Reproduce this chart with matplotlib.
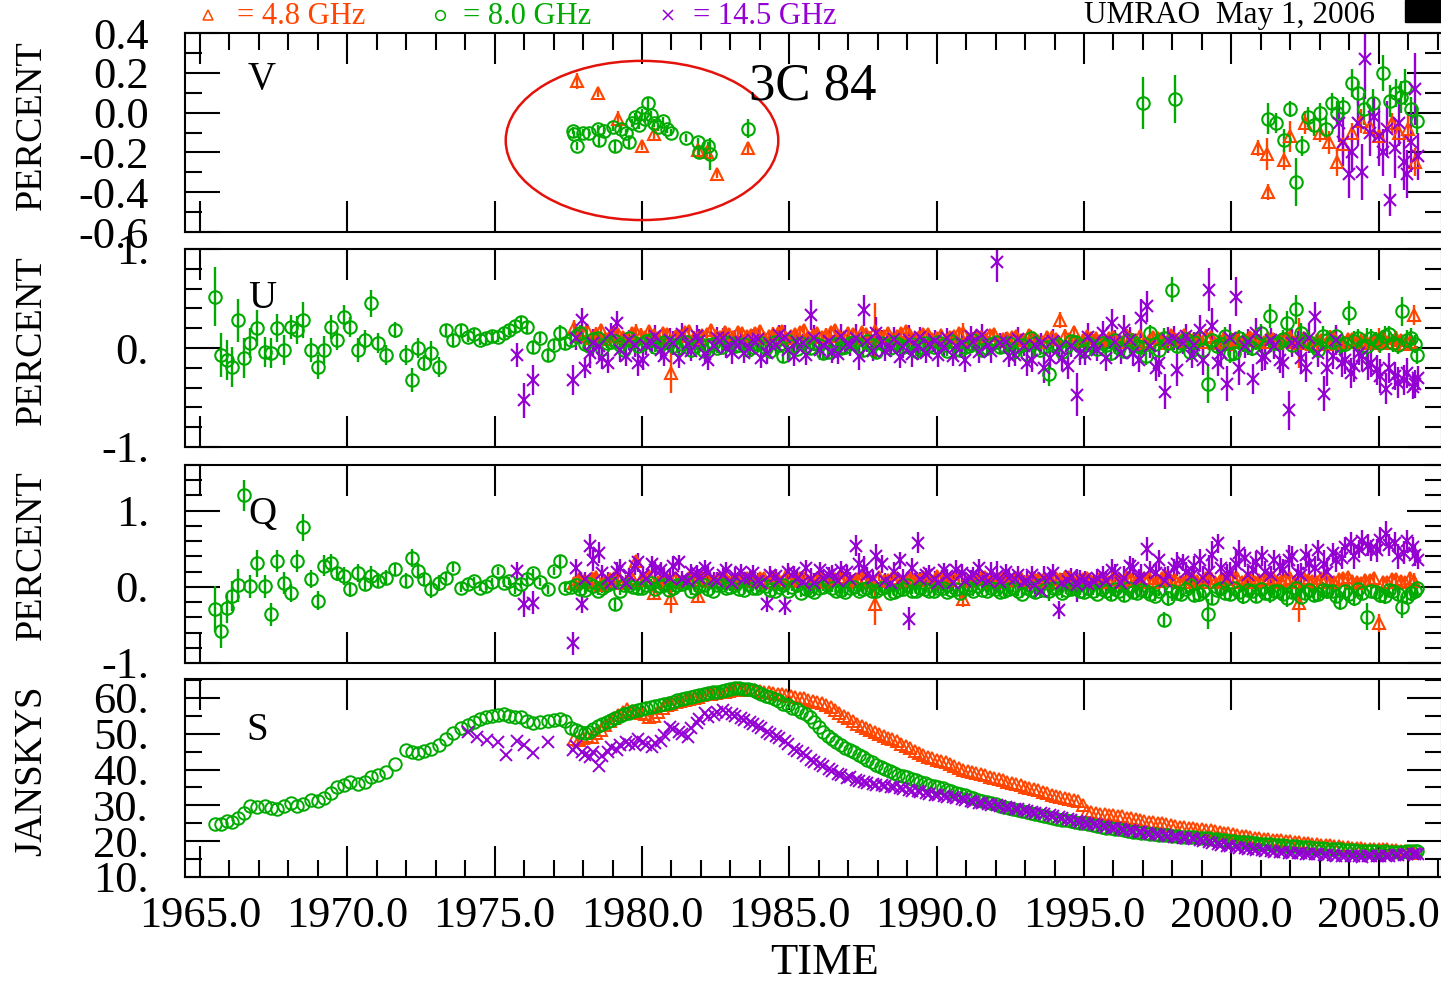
"""
UMRAO 3C 84 monitoring plot: V, U, Q polarization and total flux S
at 4.8, 8.0 and 14.5 GHz.
"""

import matplotlib
matplotlib.use("Agg")
import matplotlib.pyplot as plt
import matplotlib.patches as mpatches
from matplotlib.lines import Line2D
from matplotlib.ticker import MultipleLocator, FixedLocator, FixedFormatter, NullLocator, FormatStrFormatter
import numpy as np

plt.rcParams["font.family"] = "Liberation Serif"
plt.rcParams["axes.unicode_minus"] = False

NA = np.nan

# ── Colours ───────────────────────────────────────────────────────────────────
C48 = "#FF4500"
C80 = "#00AA00"
C145 = "#9400D3"

# ── 8.0 GHz (green) epochs, shared by U, Q, S ─────────────────────────────────
t80 = [1965.5, 1965.7, 1965.9, 1966.1, 1966.3, 1966.5, 1966.7, 1966.95, 1967.2, 1967.4,
       1967.6, 1967.85, 1968.1, 1968.3, 1968.5, 1968.75, 1969.0, 1969.2, 1969.45, 1969.65,
       1969.9, 1970.1, 1970.35, 1970.6, 1970.8, 1971.05, 1971.3, 1971.6, 1972.0, 1972.2,
       1972.4, 1972.6, 1972.85, 1973.1, 1973.35, 1973.6, 1973.85, 1974.1, 1974.3, 1974.5,
       1974.7, 1974.9, 1975.1, 1975.3, 1975.5, 1975.7, 1975.9, 1976.1, 1976.3, 1976.55,
       1976.8, 1977.0, 1977.2, 1977.4,
       1977.6, 1977.9, 1978.2, 1978.5, 1978.8, 1979.1, 1979.4, 1979.7, 1980.0, 1980.3,
       1980.6, 1980.9, 1981.2, 1981.5, 1981.8, 1982.1, 1982.4, 1982.7, 1983.0, 1983.3,
       1983.6, 1983.9, 1984.2, 1984.5, 1984.8, 1985.1, 1985.4, 1985.7, 1986.0, 1986.3,
       1986.6, 1986.9, 1987.2, 1987.5, 1987.8, 1988.1, 1988.4, 1988.7, 1989.0, 1989.3,
       1989.6, 1989.9, 1990.2, 1990.5, 1990.8, 1991.1, 1991.4, 1991.7, 1992.0, 1992.3,
       1992.6, 1992.9, 1993.2, 1993.5, 1993.8, 1994.1, 1994.4, 1994.7, 1995.0, 1995.3,
       1995.6, 1995.9, 1996.2, 1996.5, 1996.8, 1997.1, 1997.4, 1997.7, 1998.0, 1998.3,
       1998.6, 1998.9, 1999.2, 1999.5, 1999.8, 2000.1, 2000.4, 2000.7, 2001.0, 2001.3,
       2001.6, 2001.9, 2002.2, 2002.5, 2002.8, 2003.1, 2003.4, 2003.7, 2004.0, 2004.3,
       2004.6, 2004.9, 2005.2, 2005.5, 2005.8, 2006.1, 2006.3]

s80 = [24.7, 24.9, 25.6, 25.3, 26.5, 28.0, 29.8, 29.5, 29.7, 29.2,
       28.9, 29.8, 30.8, 29.7, 30.5, 31.6, 31.2, 32.2, 33.5, 35.0,
       35.8, 36.4, 36.0, 36.6, 37.9, 38.6, 39.4, 41.6, 45.6, 44.8,
       44.6, 45.2, 45.7, 46.8, 48.5, 50.3, 51.6, 52.4, 53.3, 54.1,
       54.6, 55.0, 55.3, 55.4, 55.1, 54.8, 54.6, 53.6, 52.9, 53.2,
       53.7, 53.9, 54.2, 53.5,
       51.7, 50.6, 50.4, 52.3, 53.2, 54.4, 55.6, 56.3, 57.0, 57.6,
       58.0, 58.5, 59.3, 60.0, 60.6, 61.2, 61.6, 62.0, 62.6, 62.9,
       62.4, 61.8, 60.6, 59.8, 58.4, 57.3, 56.2, 54.6, 51.8, 49.3,
       47.6, 46.1, 44.8, 43.4, 42.0, 40.8, 39.7, 38.6, 37.8, 37.0,
       36.2, 35.5, 34.8, 34.0, 33.2, 32.4, 31.6, 31.0, 30.3, 29.6,
       29.0, 28.5, 27.8, 27.2, 26.8, 26.2, 25.8, 25.4, 25.0, 24.4,
       24.0, 23.6, 23.3, 22.9, 22.6, 22.2, 21.9, 21.7, 21.5, 21.3,
       21.2, 21.0, 20.8, 20.5, 20.2, 20.0, 19.8, 19.6, 19.3, 19.1,
       18.9, 18.7, 18.6, 18.4, 18.2, 18.0, 17.9, 17.7, 17.6, 17.4,
       17.3, 17.2, 17.2, 17.0, 17.1, 17.2, 17.3]

u80 = [0.52, -0.07, -0.12, -0.19, 0.28, -0.10, 0.05, 0.20, -0.04, -0.05,
       0.20, -0.02, 0.21, 0.18, 0.28, -0.02, -0.19, -0.02, 0.21, 0.08,
       0.31, 0.21, -0.02, 0.08, 0.45, 0.05, -0.07, 0.18, -0.07, -0.32,
       0.00, -0.15, -0.05, -0.19, 0.18, 0.08, 0.18, 0.11, 0.14, 0.08,
       0.10, 0.12, 0.11, 0.15, 0.18, 0.22, 0.26, 0.21, 0.01, 0.10,
       -0.07, 0.03, 0.15, 0.05,
       0.08, 0.15, 0.02, 0.10, 0.05, 0.07, -0.02, 0.06, 0.04, 0.08,
       0.03, 0.05, 0.00, 0.06, 0.02, -0.03, 0.04, 0.01, 0.05, 0.03,
       -0.02, 0.04, 0.00, 0.06, -0.08, 0.02, 0.05, 0.00, 0.03, -0.04,
       0.04, 0.01, 0.06, -0.02, 0.03, 0.05, 0.00, 0.04, 0.02, -0.03,
       0.05, 0.01, 0.03, 0.07, -0.02, 0.02, 0.05, 0.00, 0.06, 0.02,
       -0.04, 0.03, 0.10, -0.02, -0.26, 0.04, 0.01, 0.06, -0.03, 0.02,
       0.05, -0.05, 0.00, 0.08, 0.02, -0.08, 0.04, 0.10, 0.59, 0.05,
       -0.04, 0.10, -0.36, 0.02, 0.12, -0.05, 0.06, 0.00, 0.15, 0.32,
       0.05, 0.25, 0.39, 0.08, 0.02, 0.12, 0.06, 0.03, 0.35, 0.10,
       0.02, 0.08, 0.12, 0.05, 0.37, 0.10, -0.07]

q80 = [-0.29, -0.58, -0.28, -0.12, 0.02, 1.20, 0.01, 0.31, 0.01, -0.36,
       0.34, 0.05, -0.08, 0.34, 0.78, 0.10, -0.18, 0.28, 0.31, 0.18,
       0.14, -0.03, 0.18, 0.04, 0.14, 0.08, 0.12, 0.23, 0.08, 0.38,
       0.21, 0.10, -0.03, 0.05, 0.12, 0.25, -0.01, 0.04, 0.08, -0.01,
       0.01, 0.06, 0.21, 0.05, 0.08, -0.03, 0.04, 0.10, 0.18, 0.06,
       -0.03, 0.21, 0.34, -0.01,
       0.00, -0.03, 0.04, -0.05, 0.02, -0.22, 0.03, 0.00, -0.02, 0.05,
       0.01, -0.04, 0.02, 0.06, -0.01, 0.03, -0.05, 0.02, 0.00, -0.03,
       0.04, -0.02, 0.01, -0.06, 0.03, 0.00, -0.08, -0.04, -0.02, 0.05,
       -0.05, -0.07, 0.00, -0.03, -0.06, -0.02, -0.08, -0.04, 0.02, -0.05,
       -0.03, -0.06, -0.01, -0.04, -0.08, -0.02, 0.01, -0.05, -0.03, -0.06,
       -0.02, -0.09, -0.04, 0.03, -0.06, -0.01, -0.04, -0.02, -0.07, -0.05,
       -0.03, -0.10, -0.05, -0.02, -0.08, -0.06, -0.12, -0.43, -0.05, -0.09,
       0.02, -0.10, -0.36, -0.04, -0.08, -0.02, -0.12, -0.06, -0.03, -0.09,
       -0.05, -0.14, -0.02, -0.08, -0.11, -0.04, -0.06, -0.20, -0.09, -0.03,
       -0.39, -0.07, -0.12, -0.05, -0.26, -0.08, -0.02]

e80 = [0.30, 0.22, 0.20, 0.20, 0.22, 0.20, 0.15, 0.18, 0.15, 0.15,
       0.14, 0.15, 0.12, 0.14, 0.18, 0.12, 0.12, 0.14, 0.12, 0.10,
       0.12, 0.10, 0.12, 0.10, 0.14, 0.10, 0.10, 0.08, 0.10, 0.12,
       0.10, 0.08, 0.12, 0.10, 0.06, 0.06, 0.06, 0.05, 0.05, 0.05,
       0.05, 0.05, 0.05, 0.05, 0.05, 0.06, 0.05, 0.06, 0.06, 0.05,
       0.06, 0.05, 0.08, 0.06,
       0.06, 0.08, 0.05, 0.06, 0.05, 0.08, 0.05, 0.05, 0.06, 0.05,
       0.05, 0.06, 0.05, 0.05, 0.06, 0.05, 0.05, 0.06, 0.05, 0.05,
       0.05, 0.06, 0.05, 0.05, 0.07, 0.05, 0.05, 0.06, 0.05, 0.06,
       0.05, 0.06, 0.05, 0.07, 0.05, 0.05, 0.06, 0.05, 0.08, 0.05,
       0.06, 0.05, 0.05, 0.06, 0.07, 0.05, 0.05, 0.06, 0.05, 0.06,
       0.05, 0.06, 0.08, 0.05, 0.12, 0.06, 0.05, 0.06, 0.07, 0.06,
       0.06, 0.08, 0.06, 0.07, 0.06, 0.09, 0.07, 0.10, 0.13, 0.07,
       0.08, 0.10, 0.20, 0.07, 0.09, 0.08, 0.10, 0.08, 0.09, 0.12,
       0.08, 0.12, 0.15, 0.08, 0.07, 0.10, 0.08, 0.10, 0.12, 0.09,
       0.18, 0.08, 0.10, 0.09, 0.15, 0.10, 0.09]

# second, interleaved set of 8.0 / 14.5 GHz epochs in the dense era
tb = [1977.75, 1978.05, 1978.35, 1978.65, 1978.95, 1979.25, 1979.55, 1979.85, 1980.15, 1980.45,
      1980.75, 1981.05, 1981.35, 1981.65, 1981.95, 1982.25, 1982.55, 1982.85, 1983.15, 1983.45,
      1983.75, 1984.05, 1984.35, 1984.65, 1984.95, 1985.25, 1985.55, 1985.85, 1986.15, 1986.45,
      1986.75, 1987.05, 1987.35, 1987.65, 1987.95, 1988.25, 1988.55, 1988.85, 1989.15, 1989.45,
      1989.75, 1990.05, 1990.35, 1990.65, 1990.95, 1991.25, 1991.55, 1991.85, 1992.15, 1992.45,
      1992.75, 1993.05, 1993.35, 1993.65, 1993.95, 1994.25, 1994.55, 1994.85, 1995.15, 1995.45,
      1995.75, 1996.05, 1996.35, 1996.65, 1996.95, 1997.25, 1997.55, 1997.85, 1998.15, 1998.45,
      1998.75, 1999.05, 1999.35, 1999.65, 1999.95, 2000.25, 2000.55, 2000.85, 2001.15, 2001.45,
      2001.75, 2002.05, 2002.35, 2002.65, 2002.95, 2003.25, 2003.55, 2003.85, 2004.15, 2004.45,
      2004.75, 2005.05, 2005.35, 2005.65, 2005.95, 2006.25]

s80b = [51.0, 50.2, 51.3, 52.8, 53.9, 55.0, 55.9, 56.7, 57.3, 57.8,
        58.3, 58.9, 59.7, 60.3, 60.9, 61.4, 61.8, 62.3, 62.8, 62.6,
        62.1, 61.2, 60.2, 59.1, 57.9, 56.8, 55.4, 53.2, 50.6, 48.5,
        46.8, 45.4, 44.1, 42.7, 41.4, 40.2, 39.1, 38.2, 37.4, 36.6,
        35.8, 35.1, 34.4, 33.6, 32.8, 32.0, 31.3, 30.6, 29.9, 29.3,
        28.7, 28.1, 27.5, 27.0, 26.5, 26.0, 25.6, 25.2, 24.7, 24.2,
        23.8, 23.4, 23.1, 22.7, 22.4, 22.0, 21.8, 21.6, 21.4, 21.2,
        21.1, 20.9, 20.6, 20.3, 20.1, 19.9, 19.7, 19.4, 19.2, 19.0,
        18.8, 18.6, 18.5, 18.3, 18.1, 17.9, 17.8, 17.6, 17.5, 17.4,
        17.2, 17.1, 17.1, 17.0, 17.2, 17.3]

u80b = [0.12, 0.04, 0.09, -0.01, 0.06, 0.03, 0.10, 0.02, 0.07, 0.01,
        0.06, 0.02, 0.04, -0.02, 0.05, 0.03, 0.00, 0.06, 0.02, 0.04,
        0.01, 0.05, -0.03, 0.03, 0.07, -0.01, 0.02, 0.05, -0.05, 0.03,
        0.00, 0.05, 0.02, 0.07, -0.04, 0.03, 0.06, 0.01, 0.04, 0.00,
        0.03, 0.06, -0.03, 0.04, 0.01, 0.08, -0.02, 0.04, 0.01, 0.05,
        0.02, -0.06, 0.05, 0.01, 0.03, -0.04, 0.07, 0.02, 0.05, -0.01,
        0.03, 0.08, -0.03, 0.06, 0.01, 0.15, -0.02, 0.05, 0.02, 0.09,
        0.06, -0.02, 0.08, 0.04, -0.06, 0.10, 0.03, 0.07, 0.01, 0.05,
        0.09, 0.03, 0.15, 0.06, -0.02, 0.08, 0.12, 0.04, 0.07, 0.02,
        0.10, 0.05, 0.14, 0.03, 0.08, 0.04]

q80b = [0.03, -0.04, 0.01, -0.02, 0.05, -0.06, 0.02, -0.01, 0.03, -0.03,
        0.02, -0.02, 0.04, -0.05, 0.01, -0.03, 0.03, -0.01, 0.02, -0.04,
        -0.01, 0.02, -0.04, 0.00, -0.06, 0.02, -0.03, -0.07, 0.00, -0.02,
        -0.04, -0.01, -0.06, -0.02, -0.05, 0.00, -0.07, -0.03, -0.05, -0.01,
        -0.05, -0.02, -0.07, -0.03, -0.01, -0.06, -0.04, -0.02, -0.07, -0.03,
        -0.06, -0.02, -0.07, -0.04, -0.01, -0.08, -0.03, -0.06, -0.02, -0.09,
        -0.06, -0.03, -0.11, -0.07, -0.04, -0.09, -0.05, -0.15, -0.08, -0.03,
        -0.11, -0.06, -0.14, -0.02, -0.10, -0.07, -0.04, -0.12, -0.08, -0.05,
        -0.10, -0.07, -0.13, -0.04, -0.09, -0.06, -0.12, -0.05, -0.15, -0.08,
        -0.06, -0.11, -0.04, -0.09, -0.13, -0.05]

e80b = [0.05, 0.06, 0.05, 0.06, 0.05, 0.05, 0.06, 0.05, 0.06, 0.05,
        0.06, 0.05, 0.05, 0.06, 0.05, 0.06, 0.05, 0.05, 0.06, 0.05,
        0.05, 0.06, 0.05, 0.06, 0.05, 0.05, 0.06, 0.05, 0.06, 0.05,
        0.06, 0.05, 0.06, 0.05, 0.06, 0.05, 0.05, 0.06, 0.05, 0.06,
        0.05, 0.06, 0.05, 0.06, 0.05, 0.06, 0.05, 0.06, 0.05, 0.06,
        0.06, 0.05, 0.07, 0.06, 0.05, 0.07, 0.06, 0.05, 0.07, 0.06,
        0.07, 0.08, 0.07, 0.09, 0.07, 0.08, 0.07, 0.10, 0.08, 0.07,
        0.09, 0.08, 0.10, 0.07, 0.09, 0.08, 0.07, 0.09, 0.08, 0.10,
        0.09, 0.08, 0.10, 0.09, 0.08, 0.10, 0.09, 0.08, 0.10, 0.09,
        0.09, 0.10, 0.08, 0.09, 0.10, 0.09]

# ── 4.8 GHz (orange) epochs ──────────────────────────────────────────────────
t48 = [1977.7, 1978.0, 1978.3, 1978.6, 1978.9, 1979.2, 1979.5, 1979.8, 1980.1, 1980.4,
       1980.7, 1981.0, 1981.3, 1981.6, 1981.9, 1982.2, 1982.5, 1982.8, 1983.1, 1983.4,
       1983.7, 1984.0, 1984.3, 1984.6, 1984.9, 1985.2, 1985.5, 1985.8, 1986.1, 1986.4,
       1986.7, 1987.0, 1987.3, 1987.6, 1987.9, 1988.2, 1988.5, 1988.8, 1989.1, 1989.4,
       1989.7, 1990.0, 1990.3, 1990.6, 1990.9, 1991.2, 1991.5, 1991.8, 1992.1, 1992.4,
       1992.7, 1993.0, 1993.3, 1993.6, 1993.9, 1994.2, 1994.5, 1994.8, 1995.1, 1995.4,
       1995.7, 1996.0, 1996.3, 1996.6, 1996.9, 1997.2, 1997.5, 1997.8, 1998.1, 1998.4,
       1998.7, 1999.0, 1999.3, 1999.6, 1999.9, 2000.2, 2000.5, 2000.8, 2001.1, 2001.4,
       2001.7, 2002.0, 2002.3, 2002.6, 2002.9, 2003.2, 2003.5, 2003.8, 2004.1, 2004.4,
       2004.7, 2005.0, 2005.3, 2005.6, 2005.9, 2006.2]

s48 = [48.6, 48.9, 49.2, 51.0, 53.6, 55.2, 56.8, 56.2, 55.4, 55.0,
       57.2, 58.4, 59.2, 59.8, 60.4, 61.0, 61.4, 61.8, 62.3, 62.4,
       62.2, 62.0, 61.6, 61.2, 60.8, 60.3, 59.9, 59.2, 58.6, 57.4,
       55.8, 54.3, 52.8, 51.6, 50.6, 49.4, 48.5, 47.2, 45.9, 44.5,
       43.6, 42.8, 42.0, 41.0, 40.0, 39.4, 38.8, 38.0, 37.3, 36.6,
       36.0, 35.2, 34.5, 33.8, 33.0, 32.4, 31.8, 31.2, 28.4, 27.9,
       27.5, 27.2, 26.9, 26.4, 25.9, 25.5, 25.2, 24.8, 24.3, 23.9,
       23.6, 23.3, 23.0, 22.6, 22.2, 21.7, 21.4, 21.0, 20.7, 20.4,
       20.2, 20.0, 19.8, 19.5, 19.2, 18.9, 18.7, 18.5, 18.2, 18.0,
       17.9, 17.8, 17.7, 17.5, 17.2, 16.6]

u48 = [0.20, 0.15, 0.10, 0.18, 0.12, 0.14, 0.08, 0.16, 0.11, 0.13,
       0.15, -0.25, 0.12, 0.17, 0.10, 0.14, 0.12, 0.16, 0.11, 0.15,
       0.13, 0.17, 0.12, 0.15, 0.10, 0.14, 0.18, 0.13, 0.11, 0.16,
       0.12, 0.15, 0.10, 0.14, 0.17, 0.12, 0.09, 0.15, 0.13, 0.11,
       0.14, 0.10, 0.08, 0.12, 0.15, 0.09, 0.11, 0.13, 0.07, 0.10,
       0.12, 0.08, 0.10, 0.06, 0.11, 0.28, 0.09, 0.07, 0.12, 0.10,
       0.08, 0.11, 0.06, 0.09, 0.12, 0.07, 0.10, 0.05, 0.09, 0.13,
       0.08, 0.06, 0.11, 0.07, 0.04, 0.10, 0.08, 0.12, 0.06, 0.09,
       0.07, 0.11, 0.05, 0.09, 0.08, 0.04, 0.10, 0.06, 0.09, 0.07,
       0.05, 0.08, 0.06, 0.10, 0.04, 0.33]

q48 = [0.05, 0.08, 0.12, 0.02, 0.10, 0.14, 0.06, 0.34, 0.09, -0.08,
       0.11, -0.14, 0.07, 0.12, -0.12, 0.10, 0.08, 0.13, 0.06, 0.11,
       0.09, 0.12, 0.07, 0.10, 0.14, 0.08, 0.11, 0.06, 0.12, 0.09,
       0.13, 0.07, 0.10, 0.12, -0.22, 0.08, 0.11, 0.06, 0.12, 0.09,
       0.10, 0.14, 0.07, 0.11, -0.16, 0.09, 0.12, 0.06, 0.10, 0.08,
       0.11, 0.07, 0.12, 0.09, 0.06, 0.10, 0.13, 0.08, 0.11, 0.05,
       0.09, 0.12, 0.07, 0.10, 0.06, 0.11, 0.08, 0.13, 0.09, 0.06,
       0.10, 0.07, 0.12, 0.08, 0.05, 0.11, 0.09, 0.06, 0.10, 0.12,
       0.08, 0.11, -0.21, 0.09, 0.06, 0.10, 0.07, 0.12, 0.08, 0.05,
       0.09, -0.47, 0.07, 0.10, 0.06, 0.08]

e48 = [0.08, 0.06, 0.05, 0.06, 0.05, 0.06, 0.05, 0.08, 0.05, 0.06,
       0.05, 0.20, 0.05, 0.06, 0.08, 0.05, 0.05, 0.06, 0.05, 0.05,
       0.05, 0.06, 0.05, 0.05, 0.06, 0.05, 0.05, 0.06, 0.05, 0.05,
       0.05, 0.06, 0.05, 0.05, 0.28, 0.05, 0.06, 0.05, 0.05, 0.06,
       0.05, 0.05, 0.06, 0.05, 0.10, 0.05, 0.06, 0.05, 0.05, 0.06,
       0.05, 0.06, 0.05, 0.05, 0.06, 0.08, 0.05, 0.06, 0.05, 0.05,
       0.06, 0.05, 0.06, 0.05, 0.06, 0.05, 0.06, 0.05, 0.06, 0.05,
       0.06, 0.05, 0.06, 0.05, 0.06, 0.05, 0.06, 0.06, 0.05, 0.06,
       0.06, 0.07, 0.25, 0.06, 0.05, 0.06, 0.07, 0.06, 0.06, 0.07,
       0.06, 0.12, 0.06, 0.07, 0.06, 0.10]

t48b = [1977.85, 1978.15, 1978.45, 1978.75, 1979.05, 1979.35, 1979.65, 1979.95, 1980.25, 1980.55,
        1980.85, 1981.15, 1981.45, 1981.75, 1982.05, 1982.35, 1982.65, 1982.95, 1983.25, 1983.55,
        1983.85, 1984.15, 1984.45, 1984.75, 1985.05, 1985.35, 1985.65, 1985.95, 1986.25, 1986.55,
        1986.85, 1987.15, 1987.45, 1987.75, 1988.05, 1988.35, 1988.65, 1988.95, 1989.25, 1989.55,
        1989.85, 1990.15, 1990.45, 1990.75, 1991.05, 1991.35, 1991.65, 1991.95, 1992.25, 1992.55,
        1992.85, 1993.15, 1993.45, 1993.75, 1994.05, 1994.35, 1994.65, 1994.95, 1995.25, 1995.55,
        1995.85, 1996.15, 1996.45, 1996.75, 1997.05, 1997.35, 1997.65, 1997.95, 1998.25, 1998.55,
        1998.85, 1999.15, 1999.45, 1999.75, 2000.05, 2000.35, 2000.65, 2000.95, 2001.25, 2001.55,
        2001.85, 2002.15, 2002.45, 2002.75, 2003.05, 2003.35, 2003.65, 2003.95, 2004.25, 2004.55,
        2004.85, 2005.15, 2005.45, 2005.75, 2006.05]

s48b = [48.2, 49.4, 50.1, 52.4, 54.3, 56.0, 56.5, 55.8, 54.6, 56.1,
        57.9, 58.8, 59.5, 60.1, 60.7, 61.2, 61.6, 62.0, 62.5, 62.3,
        62.1, 61.8, 61.4, 61.0, 60.6, 60.1, 59.5, 58.9, 58.0, 56.6,
        55.1, 53.5, 52.2, 51.1, 50.0, 48.9, 47.9, 46.5, 45.2, 44.0,
        43.2, 42.4, 41.5, 40.5, 39.7, 39.1, 38.4, 37.6, 37.0, 36.3,
        35.6, 34.8, 34.2, 33.4, 32.7, 32.1, 31.5, 30.0, 28.1, 27.7,
        27.3, 27.0, 26.6, 26.1, 25.7, 25.3, 25.0, 24.5, 24.1, 23.7,
        23.4, 23.1, 22.8, 22.4, 21.9, 21.5, 21.2, 20.8, 20.5, 20.3,
        20.1, 19.9, 19.6, 19.3, 19.0, 18.8, 18.6, 18.3, 18.1, 17.9,
        17.8, 17.7, 17.6, 17.3, 17.0]

u48b = [0.12, 0.18, 0.14, 0.09, 0.16, 0.11, 0.15, 0.13, 0.17, 0.10,
        0.14, 0.12, 0.16, 0.10, 0.13, 0.18, 0.11, 0.14, 0.16, 0.12,
        0.15, 0.10, 0.14, 0.17, 0.12, 0.16, 0.11, 0.15, 0.13, 0.18,
        0.11, 0.14, 0.16, 0.10, 0.13, 0.15, 0.12, 0.17, 0.10, 0.14,
        0.09, 0.13, 0.11, 0.15, 0.08, 0.12, 0.10, 0.14, 0.09, 0.11,
        0.08, 0.13, 0.07, 0.11, 0.09, 0.12, 0.16, 0.08, 0.10, 0.07,
        0.10, 0.07, 0.12, 0.08, 0.05, 0.11, 0.09, 0.13, 0.07, 0.10,
        0.09, 0.12, 0.05, 0.10, 0.08, 0.06, 0.11, 0.07, 0.10, 0.05,
        0.09, 0.06, 0.10, 0.04, 0.08, 0.11, 0.05, 0.09, 0.06, 0.08,
        0.07, 0.10, 0.05, 0.08, 0.06]

q48b = [0.10, 0.06, 0.13, 0.08, 0.11, 0.05, 0.12, 0.09, 0.14, 0.07,
        0.10, 0.12, 0.06, 0.09, 0.13, 0.08, 0.11, 0.07, 0.10, 0.12,
        0.08, 0.11, 0.13, 0.07, 0.10, 0.12, 0.08, 0.11, 0.06, 0.10,
        0.12, 0.08, 0.11, 0.07, 0.13, 0.09, 0.12, 0.08, 0.10, 0.13,
        0.07, 0.11, 0.09, 0.12, 0.08, 0.10, 0.13, 0.07, 0.11, 0.09,
        0.12, 0.08, 0.10, 0.07, 0.11, 0.13, 0.06, 0.10, 0.08, 0.12,
        0.07, 0.10, 0.13, 0.08, 0.11, 0.06, 0.12, 0.09, 0.07, 0.11,
        0.08, 0.12, 0.06, 0.10, 0.13, 0.07, 0.11, 0.09, 0.12, 0.07,
        0.10, 0.06, 0.12, 0.08, 0.11, 0.07, 0.10, 0.13, 0.06, 0.09,
        0.11, 0.07, 0.10, 0.08, 0.12]

e48b = [0.06, 0.05, 0.07, 0.05, 0.06, 0.05, 0.06, 0.07, 0.05, 0.06,
        0.05, 0.06, 0.05, 0.07, 0.05, 0.06, 0.05, 0.06, 0.05, 0.06,
        0.06, 0.05, 0.07, 0.05, 0.06, 0.05, 0.06, 0.05, 0.07, 0.05,
        0.05, 0.06, 0.05, 0.07, 0.05, 0.06, 0.05, 0.06, 0.05, 0.06,
        0.06, 0.05, 0.06, 0.05, 0.07, 0.05, 0.06, 0.05, 0.06, 0.05,
        0.05, 0.06, 0.05, 0.06, 0.05, 0.07, 0.05, 0.06, 0.05, 0.06,
        0.06, 0.05, 0.07, 0.06, 0.05, 0.06, 0.07, 0.05, 0.06, 0.05,
        0.06, 0.07, 0.05, 0.06, 0.07, 0.05, 0.06, 0.07, 0.06, 0.05,
        0.07, 0.06, 0.05, 0.07, 0.06, 0.07, 0.06, 0.05, 0.07, 0.06,
        0.07, 0.06, 0.07, 0.06, 0.07]

# ── 14.5 GHz (purple) epochs ─────────────────────────────────────────────────
t145 = [1974.1, 1974.4, 1974.75, 1975.1, 1975.4, 1975.75, 1976.0, 1976.3, 1976.8,
        1977.65, 1977.95, 1978.25, 1978.55, 1978.85, 1979.15, 1979.45, 1979.75, 1980.05, 1980.35,
        1980.65, 1980.95, 1981.25, 1981.55, 1981.85, 1982.15, 1982.45, 1982.75, 1983.05, 1983.35,
        1983.65, 1983.95, 1984.25, 1984.55, 1984.85, 1985.15, 1985.45, 1985.75, 1986.05, 1986.35,
        1986.65, 1986.95, 1987.25, 1987.55, 1987.85, 1988.15, 1988.45, 1988.75, 1989.05, 1989.35,
        1989.65, 1989.95, 1990.25, 1990.55, 1990.85, 1991.15, 1991.45, 1991.75, 1992.05, 1992.35,
        1992.65, 1992.95, 1993.25, 1993.55, 1993.85, 1994.15, 1994.45, 1994.75, 1995.05, 1995.35,
        1995.65, 1995.95, 1996.25, 1996.55, 1996.85, 1997.15, 1997.45, 1997.75, 1998.05, 1998.35,
        1998.65, 1998.95, 1999.25, 1999.55, 1999.85, 2000.15, 2000.45, 2000.75, 2001.05, 2001.35,
        2001.65, 2001.95, 2002.25, 2002.55, 2002.85, 2003.15, 2003.45, 2003.75, 2004.05, 2004.35,
        2004.65, 2004.95, 2005.25, 2005.55, 2005.85, 2006.15, 2006.35]

s145 = [50.6, 49.0, 48.3, 47.8, 44.2, 48.0, 47.0, 44.7, 47.8,
        45.6, 44.8, 43.6, 41.0, 45.0, 45.6, 47.8, 46.9, 47.8, 46.4,
        48.0, 52.0, 50.6, 49.2, 53.0, 55.8, 55.2, 56.7, 55.6, 54.4,
        53.4, 52.3, 50.6, 49.4, 48.0, 45.8, 44.6, 42.8, 41.6, 40.2,
        38.9, 37.6, 37.2, 36.6, 36.0, 35.6, 35.2, 34.8, 34.4, 33.9,
        33.5, 33.0, 32.6, 32.3, 31.8, 31.3, 30.8, 30.4, 30.0, 29.6,
        29.1, 28.7, 28.2, 27.8, 27.3, 26.7, 26.2, 25.7, 25.2, 24.7,
        24.2, 23.8, 23.5, 23.0, 22.6, 22.3, 22.0, 21.6, 21.3, 21.0,
        20.8, 20.3, 19.8, 19.2, 18.7, 18.4, 18.1, 17.8, 17.5, 17.2,
        17.0, 16.8, 16.7, 16.5, 16.4, 16.2, 16.1, 16.0, 15.9, 15.8,
        15.8, 15.9, 16.0, 16.1, 16.2, 16.4, 16.5]

u145 = [NA, NA, NA, NA, NA, -0.07, -0.53, -0.32, NA,
        -0.32, 0.28, -0.05, 0.02, -0.15, 0.25, -0.08, 0.03, -0.12, 0.05,
        -0.02, 0.08, -0.10, 0.04, 0.12, -0.06, 0.02, 0.10, -0.04, 0.06,
        0.00, 0.09, -0.05, 0.03, 0.11, -0.08, 0.05, 0.33, -0.02, 0.07,
        -0.06, 0.04, 0.10, 0.38, -0.03, 0.06, 0.00, -0.09, 0.08, 0.02,
        -0.05, 0.07, 0.01, -0.08, 0.05, 0.12, -0.04, 0.03, 0.87, 0.06,
        -0.07, 0.02, -0.12, 0.05, -0.10, 0.00, -0.18, -0.47, -0.06, 0.04,
        0.15, 0.25, -0.05, 0.08, -0.12, 0.42, -0.20, -0.44, 0.10, 0.05,
        -0.08, 0.18, 0.59, -0.15, -0.36, 0.52, 0.02, -0.31, -0.10, 0.08,
        -0.12, -0.63, 0.05, -0.20, 0.31, -0.46, -0.08, -0.15, -0.25, -0.05,
        -0.18, -0.22, -0.41, -0.28, -0.32, -0.39, -0.30]

q145 = [NA, NA, NA, NA, NA, 0.21, -0.22, -0.21, NA,
        -0.74, -0.22, 0.54, 0.45, 0.10, 0.20, 0.05, 0.28, 0.15, 0.30,
        0.22, 0.12, 0.32, 0.08, 0.18, 0.25, 0.10, 0.15, 0.05, 0.20,
        0.12, 0.08, -0.22, 0.14, -0.25, 0.18, 0.06, 0.10, 0.22, 0.15,
        0.08, 0.20, 0.54, 0.25, 0.12, 0.30, 0.05, 0.35, -0.42, 0.58,
        0.15, 0.10, 0.22, 0.05, 0.18, 0.12, 0.25, 0.08, 0.14, 0.20,
        0.10, 0.06, 0.16, -0.05, 0.12, -0.30, 0.08, 0.02, 0.10, 0.06,
        0.15, 0.22, 0.05, 0.28, 0.12, 0.50, 0.18, 0.08, 0.25, 0.32,
        0.15, 0.35, 0.20, 0.57, 0.12, 0.30, 0.38, 0.22, 0.40, 0.15,
        0.28, 0.35, 0.18, 0.42, 0.25, 0.30, 0.45, 0.38, 0.57, 0.50,
        0.55, 0.48, 0.70, 0.58, 0.45, 0.52, 0.35]

e145 = [0.10, 0.10, 0.10, 0.10, 0.10, 0.12, 0.18, 0.15, 0.10,
        0.15, 0.12, 0.15, 0.14, 0.10, 0.12, 0.10, 0.12, 0.10, 0.11,
        0.10, 0.12, 0.10, 0.09, 0.11, 0.10, 0.09, 0.10, 0.12, 0.10,
        0.09, 0.10, 0.11, 0.09, 0.12, 0.10, 0.09, 0.15, 0.10, 0.11,
        0.10, 0.09, 0.14, 0.16, 0.10, 0.12, 0.09, 0.11, 0.15, 0.14,
        0.10, 0.11, 0.09, 0.10, 0.12, 0.10, 0.11, 0.09, 0.20, 0.10,
        0.11, 0.10, 0.12, 0.10, 0.11, 0.12, 0.13, 0.22, 0.11, 0.10,
        0.12, 0.14, 0.11, 0.13, 0.12, 0.16, 0.13, 0.18, 0.12, 0.11,
        0.12, 0.15, 0.22, 0.13, 0.18, 0.20, 0.12, 0.15, 0.13, 0.12,
        0.13, 0.20, 0.12, 0.14, 0.15, 0.18, 0.13, 0.14, 0.15, 0.12,
        0.14, 0.15, 0.16, 0.14, 0.15, 0.13, 0.12]

s145b = [46.5, 44.2, 44.9, 43.8, 46.2, 46.8, 47.2, 48.5, 47.0, 47.4,
         49.6, 51.2, 49.8, 51.5, 54.2, 54.6, 56.2, 55.9, 55.0, 53.8,
         52.8, 51.5, 49.9, 48.8, 47.1, 45.2, 43.8, 42.2, 41.0, 39.6,
         38.4, 37.9, 36.9, 36.3, 35.8, 35.4, 35.0, 34.6, 34.1, 33.7,
         33.3, 32.8, 32.4, 32.0, 31.6, 31.0, 30.6, 30.2, 29.8, 29.4,
         28.9, 28.4, 28.0, 27.5, 27.0, 26.4, 25.9, 25.4, 24.9, 24.5,
         24.0, 23.7, 23.2, 22.8, 22.5, 22.1, 21.8, 21.5, 21.1, 20.9,
         20.6, 20.0, 19.5, 19.0, 18.6, 18.2, 17.9, 17.6, 17.3, 17.1,
         16.9, 16.8, 16.6, 16.4, 16.3, 16.1, 16.0, 15.9, 15.8, 15.7,
         15.8, 15.9, 16.0, 16.1, 16.3, 16.5]

u145b = [0.10, -0.20, 0.05, -0.10, 0.15, -0.02, 0.08, -0.15, 0.03, 0.12,
         -0.08, 0.05, 0.14, -0.03, 0.07, -0.12, 0.10, 0.00, 0.06, -0.05,
         0.08, -0.10, 0.04, 0.13, -0.02, 0.06, -0.07, 0.10, 0.03, -0.04,
         0.12, 0.02, -0.08, 0.07, 0.15, -0.03, 0.09, 0.01, -0.06, 0.11,
         0.04, -0.07, 0.10, 0.02, -0.12, 0.06, 0.13, -0.03, 0.05, -0.08,
         0.09, -0.15, 0.03, -0.20, 0.07, -0.10, 0.02, -0.05, 0.11, -0.02,
         -0.10, 0.06, 0.18, -0.05, 0.30, 0.02, -0.15, 0.08, -0.22, 0.12,
         0.03, -0.12, 0.22, -0.05, 0.10, -0.20, 0.06, 0.15, -0.08, 0.02,
         -0.15, 0.05, -0.10, 0.10, -0.05, -0.20, 0.08, -0.12, -0.18, -0.08,
         -0.15, -0.28, -0.20, -0.35, -0.25, -0.36]

q145b = [0.25, 0.10, 0.35, 0.18, 0.05, 0.25, 0.15, 0.32, 0.10, 0.22,
         0.15, 0.28, 0.10, 0.20, 0.12, 0.18, 0.08, 0.22, 0.14, 0.10,
         0.18, 0.05, 0.15, 0.08, 0.20, 0.10, 0.25, 0.05, 0.12, 0.18,
         0.22, 0.10, 0.30, 0.15, 0.40, 0.08, 0.20, 0.12, 0.25, 0.10,
         0.18, 0.05, 0.14, 0.22, 0.08, 0.16, 0.10, 0.20, 0.06, 0.12,
         0.15, 0.08, 0.02, 0.12, 0.18, 0.05, 0.14, 0.10, 0.04, 0.12,
         0.08, 0.18, 0.12, 0.25, 0.10, 0.22, 0.35, 0.15, 0.30, 0.20,
         0.28, 0.12, 0.42, 0.25, 0.18, 0.45, 0.15, 0.32, 0.20, 0.35,
         0.22, 0.40, 0.15, 0.30, 0.48, 0.20, 0.35, 0.52, 0.40, 0.60,
         0.48, 0.62, 0.55, 0.40, 0.60, 0.42]

e145b = [0.12, 0.10, 0.14, 0.11, 0.10, 0.12, 0.10, 0.13, 0.10, 0.11,
         0.10, 0.12, 0.11, 0.10, 0.12, 0.10, 0.11, 0.10, 0.12, 0.10,
         0.11, 0.10, 0.12, 0.10, 0.11, 0.12, 0.10, 0.13, 0.10, 0.11,
         0.12, 0.10, 0.14, 0.11, 0.16, 0.10, 0.12, 0.11, 0.13, 0.10,
         0.11, 0.12, 0.10, 0.13, 0.12, 0.10, 0.11, 0.12, 0.10, 0.11,
         0.12, 0.13, 0.11, 0.15, 0.12, 0.13, 0.11, 0.12, 0.14, 0.11,
         0.13, 0.12, 0.15, 0.13, 0.20, 0.12, 0.14, 0.13, 0.16, 0.12,
         0.13, 0.15, 0.18, 0.13, 0.14, 0.17, 0.13, 0.15, 0.14, 0.13,
         0.15, 0.14, 0.16, 0.15, 0.14, 0.18, 0.15, 0.14, 0.16, 0.15,
         0.14, 0.17, 0.15, 0.16, 0.15, 0.14]

# ── Circular polarization V (sparse) ─────────────────────────────────────────
tv48 = [1977.8, 1978.5, 1979.2, 1980.0, 1980.4, 1981.9, 1982.2, 1982.55, 1983.6,
        2000.9, 2001.2, 2001.25, 2001.8, 2002.0, 2002.5, 2003.0, 2003.3, 2003.6, 2003.8,
        2004.1, 2004.4, 2004.7, 2005.0, 2005.45, 2005.7, 2006.0, 2006.25]
v48 = [0.16, 0.10, -0.03, -0.17, -0.11, -0.19, -0.20, -0.31, -0.18,
       -0.18, -0.21, -0.40, -0.24, -0.12, -0.05, -0.10, -0.15, -0.25, -0.16,
       -0.10, -0.04, -0.07, -0.12, -0.05, -0.10, -0.08, -0.25]
ev48 = [0.04, 0.02, 0.04, 0.02, 0.03, 0.03, 0.03, 0.02, 0.03,
        0.04, 0.08, 0.04, 0.05, 0.08, 0.06, 0.05, 0.06, 0.07, 0.06,
        0.05, 0.06, 0.07, 0.06, 0.05, 0.06, 0.07, 0.07]

tv80 = [1977.65, 1977.7, 1977.8, 1978.0, 1978.2, 1978.5, 1978.55, 1978.7, 1979.0, 1979.1,
        1979.3, 1979.45, 1979.55, 1979.65, 1979.75, 1979.9, 1980.0, 1980.1, 1980.2, 1980.3,
        1980.4, 1980.55, 1980.7, 1980.85, 1981.0, 1981.5, 1981.9, 1981.95, 1982.25, 1982.3,
        1983.6, 1997.0, 1998.1, 2001.25, 2001.5, 2001.8, 2002.0, 2002.2, 2002.4, 2002.6,
        2002.8, 2003.0, 2003.2, 2003.4, 2003.6, 2003.8, 2004.1, 2004.3, 2004.5, 2004.8,
        2005.15, 2005.4, 2005.6, 2005.75, 2005.9, 2006.1, 2006.3]
v80 = [-0.09, -0.11, -0.17, -0.10, -0.10, -0.08, -0.14, -0.09, -0.07, -0.17,
       -0.08, -0.10, -0.15, -0.05, -0.02, -0.06, 0.00, -0.03, 0.05, -0.01,
       -0.05, -0.07, -0.04, -0.08, -0.10, -0.13, -0.15, -0.20, -0.17, -0.21,
       -0.08, 0.05, 0.07, -0.03, -0.05, -0.14, 0.02, -0.35, -0.17, -0.02,
       -0.06, 0.00, -0.08, 0.05, 0.00, 0.03, 0.15, 0.10, 0.02, 0.05,
       0.20, 0.06, 0.10, 0.08, 0.13, 0.02, -0.04]
ev80 = [0.02, 0.02, 0.02, 0.02, 0.02, 0.02, 0.03, 0.02, 0.02, 0.03,
        0.02, 0.02, 0.03, 0.02, 0.02, 0.02, 0.02, 0.02, 0.03, 0.02,
        0.02, 0.02, 0.02, 0.02, 0.02, 0.02, 0.02, 0.03, 0.02, 0.08,
        0.05, 0.13, 0.12, 0.08, 0.05, 0.06, 0.04, 0.12, 0.05, 0.05,
        0.06, 0.05, 0.06, 0.05, 0.06, 0.05, 0.07, 0.06, 0.08, 0.07,
        0.09, 0.08, 0.07, 0.08, 0.09, 0.06, 0.07]

tv145 = [2003.65, 2003.8, 2004.0, 2004.1, 2004.3, 2004.45, 2004.55, 2004.7, 2004.85, 2005.0,
         2005.15, 2005.3, 2005.4, 2005.55, 2005.7, 2005.85, 2005.95, 2006.1, 2006.25, 2006.35]
v145 = [-0.05, -0.15, -0.31, -0.20, -0.05, -0.30, 0.27, -0.10, -0.02, -0.12,
        -0.20, -0.08, -0.44, -0.18, -0.05, -0.25, -0.31, -0.15, 0.12, -0.22]
ev145 = [0.10, 0.12, 0.12, 0.10, 0.12, 0.14, 0.20, 0.12, 0.10, 0.15,
         0.12, 0.14, 0.08, 0.15, 0.12, 0.14, 0.12, 0.15, 0.18, 0.12]

# ── Layout (pixel boxes on a 1441 x 981 canvas) ──────────────────────────────
W, H = 1441, 981

def box(top, bottom, left=185, right=1442):
    return [left / W, 1 - bottom / H, (right - left) / W, (bottom - top) / H]

fig = plt.figure(figsize=(W / 100, H / 100), dpi=100)
axV = fig.add_axes(box(33, 232))
axU = fig.add_axes(box(249, 447), sharex=axV)
axQ = fig.add_axes(box(465, 663), sharex=axV)
axS = fig.add_axes(box(679, 877), sharex=axV)


def frame(ax, ylim, major, labels, minor, xminor_top=False, xminor_bottom=False):
    ax.set_xlim(1964.49, 2007.15)
    ax.set_ylim(*ylim)
    ax.xaxis.set_major_locator(MultipleLocator(5))
    if xminor_top or xminor_bottom:
        ax.xaxis.set_minor_locator(MultipleLocator(1))
    else:
        ax.xaxis.set_minor_locator(NullLocator())
    ax.yaxis.set_major_locator(FixedLocator(major))
    ax.yaxis.set_major_formatter(FixedFormatter(labels))
    ax.yaxis.set_minor_locator(MultipleLocator(minor))
    ax.tick_params(which="both", direction="in", top=True, right=True,
                   labelbottom=False, width=1.5, color="black")
    ax.tick_params(axis="x", which="major", length=22)
    ax.tick_params(axis="x", which="minor", length=12,
                   top=xminor_top, bottom=xminor_bottom)
    ax.tick_params(axis="y", which="major", length=25, labelsize=32, pad=26)
    ax.tick_params(axis="y", which="minor", length=12)
    for sp in ax.spines.values():
        sp.set_linewidth(1.5)


def pol(ax, t, y, e, color, marker):
    ax.errorbar(t, y, yerr=e, fmt=marker, color=color, ecolor=color,
                mfc="none", mec=color, ms=9, mew=1.5, elinewidth=1.7, capsize=0)


def flux(ax, t, y, color, marker):
    ax.plot(t, y, ls="none", marker=marker, color=color, mfc="none",
            mec=color, ms=9, mew=1.4)


frame(axV, (-0.6, 0.4), [-0.6, -0.4, -0.2, 0.0, 0.2, 0.4],
      ["-0.6", "-0.4", "-0.2", "0.0", "0.2", "0.4"], 0.1, xminor_top=True)
frame(axU, (-1.0, 1.0), [-1, 0, 1], ["-1.", "0.", "1."], 0.2)
frame(axQ, (-1.0, 1.6), [-1, 0, 1], ["-1.", "0.", "1."], 0.2)
frame(axS, (10, 65.3), [10, 20, 30, 40, 50, 60],
      ["10.", "20.", "30.", "40.", "50.", "60."], 5, xminor_bottom=True)

# ── Data ──────────────────────────────────────────────────────────────────────
pol(axV, tv48, v48, ev48, C48, "^")
pol(axV, tv80, v80, ev80, C80, "o")
pol(axV, tv145, v145, ev145, C145, "x")

for ax, y48, y48b, y80, y80b, y145, y145b in [
        (axU, u48, u48b, u80, u80b, u145, u145b),
        (axQ, q48, q48b, q80, q80b, q145, q145b)]:
    pol(ax, t48, y48, e48, C48, "^")
    pol(ax, t48b, y48b, e48b, C48, "^")
    pol(ax, t80, y80, e80, C80, "o")
    pol(ax, tb, y80b, e80b, C80, "o")
    pol(ax, t145, y145, e145, C145, "x")
    pol(ax, tb, y145b, e145b, C145, "x")

flux(axS, t48, s48, C48, "^")
flux(axS, t48b, s48b, C48, "^")
flux(axS, t80, s80, C80, "o")
flux(axS, tb, s80b, C80, "o")
flux(axS, t145, s145, C145, "x")
flux(axS, tb, s145b, C145, "x")

axS.tick_params(axis="x", labelbottom=True, labelsize=32, pad=14)
axS.xaxis.set_major_formatter(FormatStrFormatter("%.1f"))

# red ring around the 1978-1983 V detections
axV.add_patch(mpatches.Ellipse((1980.0, -0.14), 9.25, 0.80, fill=False,
                               ec="#E3120B", lw=1.8, zorder=6, clip_on=False))

# ── Labels ────────────────────────────────────────────────────────────────────
def ftext(x, y, s, **kw):
    fig.text(x / W, 1 - y / H, s, **kw)

for yc in (125, 340, 555):
    ftext(32, yc, "PERCENT", rotation=90, ha="center", va="center", fontsize=27.5)
ftext(32, 771, "JANSKYS", rotation=90, ha="center", va="center", fontsize=28)
ftext(825, 963, "TIME", ha="center", va="center", fontsize=32)

for x, y, s in [(262, 80, "V"), (262, 298, "U"), (262, 515, "Q"), (257, 730, "S")]:
    ftext(x, y, s, ha="center", va="center", fontsize=28)
ftext(813, 87, "3C 84", ha="center", va="center", fontsize=38)

# legend line along the top
for mx, tx, c, m, s in [(208, 237, C48, "^", "= 4.8 GHz"),
                        (440, 463, C80, "o", "= 8.0 GHz"),
                        (668, 693, C145, "x", "= 14.5 GHz")]:
    fig.add_artist(Line2D([mx / W], [1 - 15 / H], marker=m, color=c, mfc="none",
                          ms=7, mew=1.1, ls="none", transform=fig.transFigure))
    ftext(tx, 16, s, ha="left", va="center", fontsize=22, color=c)
ftext(1375, 16, "UMRAO  May 1, 2006", ha="right", va="center", fontsize=22.5)
fig.add_artist(mpatches.Rectangle((1405 / W, 1 - 22 / H), 36 / W, 22 / H,
                                  transform=fig.transFigure, color="black"))

fig.savefig("out.png", dpi=100)
